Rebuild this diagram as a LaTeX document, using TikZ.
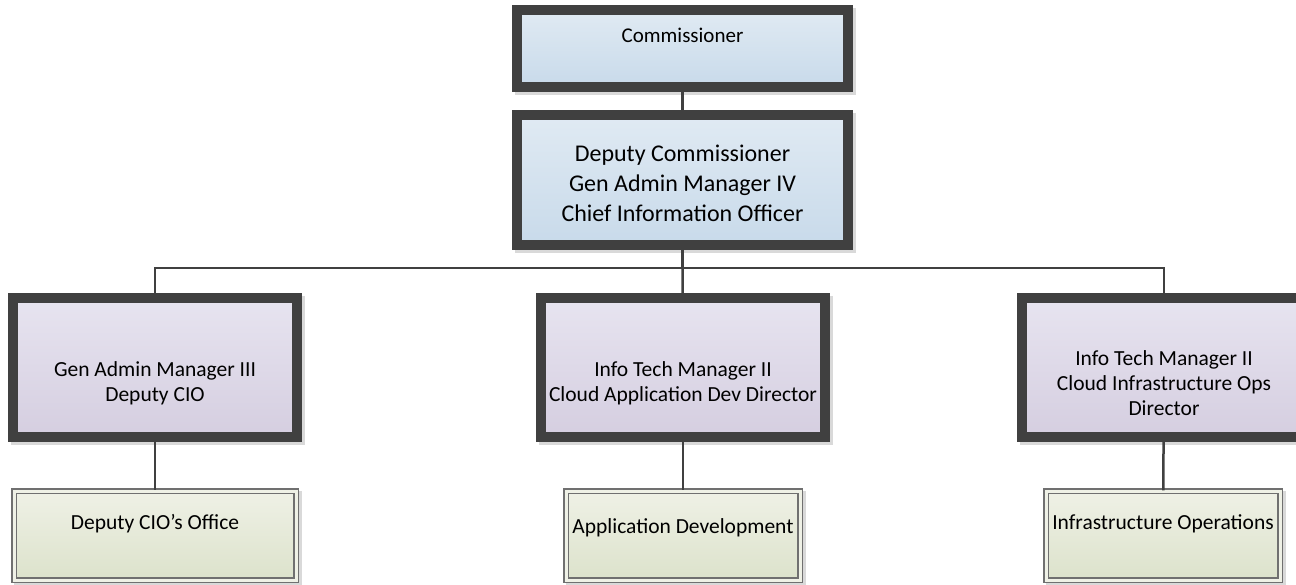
\documentclass[tikz,border=0pt]{standalone}
\usepackage{fontspec}
\setmainfont{Carlito}
\usetikzlibrary{shadows}

\definecolor{boxedge}{HTML}{404040}
\definecolor{unitedge}{HTML}{707070}
\definecolor{bluetop}{HTML}{E0EAF3}
\definecolor{bluebot}{HTML}{C8DAEA}
\definecolor{lavtop}{HTML}{E7E4F0}
\definecolor{lavbot}{HTML}{D5CEE0}
\definecolor{greentop}{HTML}{EFF1E6}
\definecolor{greenbot}{HTML}{DCE2CB}

\tikzset{
    boxshadow/.style={drop shadow={shadow xshift=3pt, shadow yshift=-3pt, fill=black!15, draw=black!15, opacity=1, line width=#1}},
    exec/.style={rectangle, draw=boxedge, line width=10pt, top color=bluetop, bottom color=bluebot, boxshadow=10pt},
    director/.style={exec, top color=lavtop, bottom color=lavbot, minimum width=284pt, minimum height=139pt},
    unit/.style={rectangle, draw=unitedge, line width=1.5pt, double=greentop, double distance=3pt,
        top color=greentop, bottom color=greenbot, minimum height=89pt, boxshadow=6pt},
    link/.style={draw=boxedge, line width=2.5pt},
    boxtext/.style={align=center, text=black, font=\fontsize{21.5}{25}\selectfont}
}

\begin{document}
\begin{tikzpicture}[x=1pt, y=-1pt]
    \useasboundingbox (0,0) rectangle (1296,584);

    % connectors first, boxes on top
        \coordinate (bus) at (682.5,268);

    % top two boxes
        \node[exec, minimum width=331pt, minimum height=77pt] (comm) at (682.5,48.5) {};
        \node[exec, minimum width=331pt, minimum height=130pt] (dep) at (682.5,180) {};

    % directors
        \node[director] (gam) at (155,367.5) {};
        \node[director] (appdir) at (683,367.5) {};
        \node[director] (infdir) at (1164,367.5) {};

    % units
        \node[unit, minimum width=282pt] (office) at (155,535.5) {};
        \node[unit, minimum width=234pt] (appdev) at (683,535.5) {};
        \node[unit, minimum width=234pt] (infops) at (1163,535.5) {};

    % lines
        \draw[link] (comm) -- (dep);
        \draw[link] (dep) -- (bus);
        \draw[link] (bus) -| (gam);
        \draw[link] (bus) -- (appdir);
        \draw[link] (bus) -| (infdir);
        \draw[link] (gam) -- (office);
        \draw[link] (appdir) -- (appdev);
        \draw[link] (infdir) -- (infops);

    % texts
        \node[boxtext, font=\fontsize{21}{25}\selectfont] (comm-t) at ([yshift=13.5pt]comm.center) {Commissioner};
        \node[boxtext, font=\fontsize{24}{30}\selectfont] (dep-t) at ([yshift=-3pt]dep.center)
            {Deputy Commissioner\\Gen Admin Manager IV\\Chief Information Officer};
        \node[boxtext] (gam-t) at ([yshift=-15.5pt]gam.center) {Gen Admin Manager III\\Deputy CIO};
        \node[boxtext] (appdir-t) at ([yshift=-15.5pt]appdir.center) {Info Tech Manager II\\Cloud Application Dev Director};
        \node[boxtext] (infdir-t) at ([yshift=-15.5pt]infdir.center) {Info Tech Manager II\\Cloud Infrastructure Ops\\Director};
        \node[boxtext] (office-t) at ([yshift=12pt]office.center) {Deputy CIO’s Office};
        \node[boxtext] (appdev-t) at ([yshift=8pt]appdev.center) {Application Development};
        \node[boxtext] (infops-t) at ([yshift=12pt]infops.center) {Infrastructure Operations};
\end{tikzpicture}
\end{document}
